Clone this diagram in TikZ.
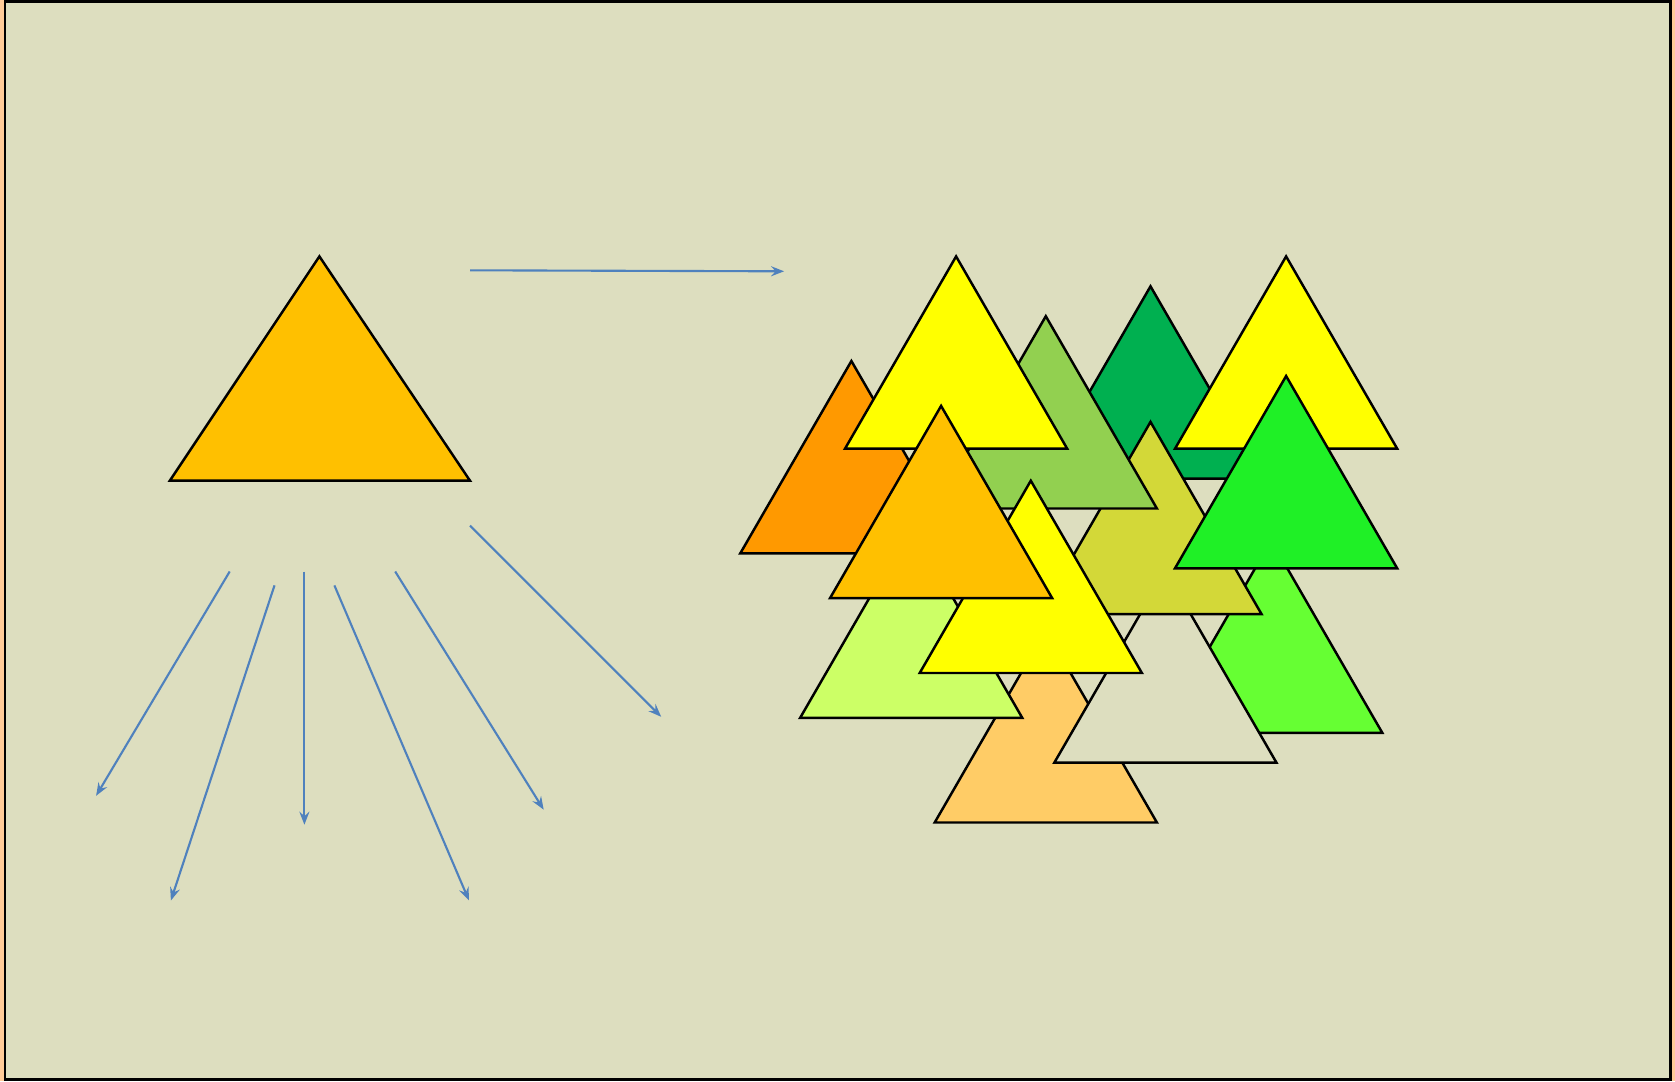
\documentclass[tikz,border=0pt]{standalone}
\usepackage{tikz}
\usetikzlibrary{arrows.meta}
\definecolor{pagepeach}{HTML}{FFCC99}
\definecolor{fieldbg}{HTML}{DDDEBF}
\definecolor{rayblue}{HTML}{4F81BD}
\definecolor{treeamber}{HTML}{FFC000}
\definecolor{treeorange}{HTML}{FF9900}
\definecolor{treeyellow}{HTML}{FFFF00}
\definecolor{treelime}{HTML}{92D050}
\definecolor{treedark}{HTML}{00B050}
\definecolor{treebright}{HTML}{1FF026}
\definecolor{treeolive}{HTML}{D3D838}
\definecolor{treepale}{HTML}{CCFF66}
\definecolor{treepeach}{HTML}{FFCC66}
\definecolor{treegrass}{HTML}{66FF33}

\begin{document}
\begin{tikzpicture}[x=0.01cm, y=-0.01cm,
    tri/.style={draw=black, line width=0.7pt, line join=miter},
    ray/.style={draw=rayblue, line width=0.6pt,
        -{Stealth[length=1.3mm, width=1mm, inset=0.45mm]}}]
\useasboundingbox (0,0) rectangle (1675,1081);

% Page and frame
\fill[pagepeach] (0,0) rectangle (1675,1081);
\filldraw[fill=fieldbg, draw=black, line width=0.85pt] (5,1.2) rectangle (1670,1079.8);

% Big single triangle
\filldraw[tri, fill=treeamber] (319.4,256.4) -- (470,480.7) -- (169.8,480.7) -- cycle;

% Ray end points
\coordinate (hs) at (470,270.3);   \coordinate (he) at (784.1,271.3);
\coordinate (r1s) at (229.7,571.5); \coordinate (r1e) at (96.1,795.8);
\coordinate (r2s) at (274.5,585.4); \coordinate (r2e) at (170.9,900.5);
\coordinate (r3s) at (304.4,571.5); \coordinate (r3e) at (304.4,824.7);
\coordinate (r4s) at (334.4,585.4); \coordinate (r4e) at (469,900.5);
\coordinate (r5s) at (395.2,571.5); \coordinate (r5e) at (543.7,809.7);
\coordinate (r6s) at (470,525.6);   \coordinate (r6e) at (661.2,716.8);

% Rays
\draw[ray] (hs) -- (he);
\foreach \i in {1,...,6} {
    \draw[ray] (r\i s) -- (r\i e);
}

% Cluster of triangles (apex x / apex y / fill), back to front
\def\hw{111.1}
\def\ht{192.3}
\foreach \x/\y/\c in {
    1150.5/286.3/treedark,
    1271.2/540.5/treegrass,
    1045.8/630.2/treepeach,
    1165.4/570.4/fieldbg,
    1150.5/421.9/treeolive,
    1045.8/316.2/treelime,
    851.4/361.0/treeorange,
    956.1/256.4/treeyellow,
    1286.1/256.4/treeyellow,
    1286.1/376.0/treebright,
    911.2/525.6/treepale,
    1030.8/480.7/treeyellow,
    941.1/405.9/treeamber} {
    \filldraw[tri, fill=\c] (\x,\y) -- ++(\hw,\ht) -- ++(-2*\hw,0) -- cycle;
}
\end{tikzpicture}
\end{document}
